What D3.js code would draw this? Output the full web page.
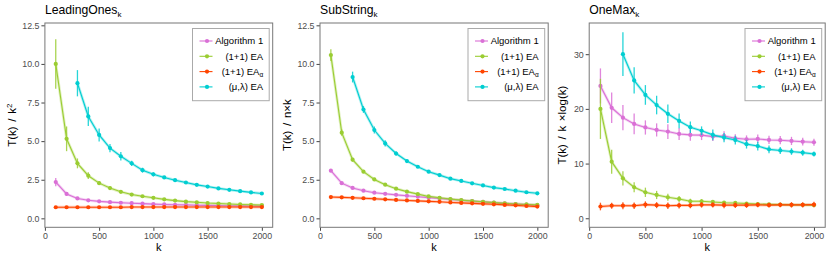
<!DOCTYPE html>
<html lang="en">
<head>
<meta charset="utf-8">
<script src="https://d3js.org/d3.v7.min.js"></script>
<style>
    body { margin: 0px; background: #fff; }
    text { font-family: "Liberation Sans", Arial, sans-serif; }
</style>
</head>
<body>
<svg id="chart"></svg>
<script>
// Problem sizes
var kValues = [100, 200, 300, 400, 500, 600, 700, 800, 900, 1000,
               1100, 1200, 1300, 1400, 1500, 1600, 1700, 1800, 1900, 2000];

var seriesNames = ["Algorithm 1", "(1+1) EA", "(1+1) EA", "(\u03bc,\u03bb) EA"];
var seriesSubs = ["", "", "\u03b1", ""];
var seriesColors = ["#da70d6", "#9acd32", "#ff4500", "#00ced1"];

var xTicks = [0, 500, 1000, 1500, 2000];

// LeadingOnes_k : T(k) / k^2
var leadAlg1 = [2.35, 1.58, 1.29, 1.17, 1.10, 1.05, 1.01, 0.98, 0.95, 0.92, 0.90, 0.88, 0.87, 0.85, 0.84, 0.83, 0.82, 0.81, 0.80, 0.79];
var leadAlg1Err = [0.27, 0.12, 0.07, 0.05, 0.04, 0.03, 0.03, 0.03, 0.02, 0.02, 0.02, 0.02, 0.02, 0.02, 0.02, 0.02, 0.02, 0.02, 0.02, 0.02];
var leadEA = [10.0, 5.15, 3.56, 2.76, 2.28, 1.96, 1.72, 1.54, 1.43, 1.33, 1.23, 1.15, 1.08, 1.04, 0.99, 0.96, 0.93, 0.90, 0.88, 0.86];
var leadEAErr = [1.6, 0.8, 0.32, 0.22, 0.12, 0.10, 0.08, 0.06, 0.05, 0.04, 0.04, 0.03, 0.03, 0.03, 0.03, 0.02, 0.02, 0.02, 0.02, 0.02];
var leadEAa = [0.72, 0.72, 0.72, 0.72, 0.72, 0.72, 0.72, 0.73, 0.73, 0.73, 0.73, 0.73, 0.73, 0.73, 0.73, 0.73, 0.73, 0.73, 0.73, 0.73];
var leadEAaErr = [0.08, 0.07, 0.07, 0.07, 0.07, 0.07, 0.07, 0.07, 0.07, 0.07, 0.07, 0.07, 0.07, 0.07, 0.07, 0.07, 0.07, 0.07, 0.07, 0.07];
var leadMuLam = [null, null, 8.75, 6.60, 5.40, 4.55, 4.02, 3.56, 3.12, 2.85, 2.65, 2.47, 2.32, 2.17, 2.06, 1.94, 1.85, 1.76, 1.68, 1.61];
var leadMuLamErr = [null, null, 0.85, 0.62, 0.42, 0.27, 0.28, 0.17, 0.16, 0.13, 0.08, 0.06, 0.06, 0.05, 0.05, 0.04, 0.04, 0.04, 0.04, 0.04];

// SubString_k : T(k) / (n k)
var subAlg1 = [3.09, 2.28, 1.97, 1.79, 1.66, 1.59, 1.52, 1.46, 1.40, 1.34, 1.29, 1.23, 1.17, 1.12, 1.07, 1.02, 0.97, 0.93, 0.89, 0.85];
var subAlg1Err = [0.06, 0.05, 0.04, 0.04, 0.03, 0.03, 0.03, 0.03, 0.03, 0.03, 0.03, 0.03, 0.03, 0.03, 0.03, 0.03, 0.03, 0.03, 0.03, 0.03];
var subEA = [10.57, 5.55, 3.80, 3.02, 2.52, 2.18, 1.92, 1.73, 1.57, 1.42, 1.33, 1.25, 1.18, 1.12, 1.07, 1.02, 0.97, 0.93, 0.90, 0.87];
var subEAErr = [0.38, 0.20, 0.12, 0.08, 0.06, 0.05, 0.04, 0.04, 0.03, 0.03, 0.03, 0.03, 0.03, 0.03, 0.03, 0.03, 0.03, 0.03, 0.03, 0.03];
var subEAa = [1.38, 1.36, 1.33, 1.30, 1.27, 1.23, 1.19, 1.16, 1.13, 1.10, 1.07, 1.03, 1.00, 0.97, 0.94, 0.91, 0.87, 0.84, 0.80, 0.76];
var subEAaErr = [0.06, 0.06, 0.06, 0.06, 0.06, 0.06, 0.06, 0.06, 0.06, 0.06, 0.06, 0.06, 0.06, 0.06, 0.06, 0.06, 0.06, 0.06, 0.06, 0.06];
var subMuLam = [null, null, 9.15, 7.05, 5.72, 4.85, 4.20, 3.71, 3.34, 3.02, 2.80, 2.57, 2.42, 2.27, 2.13, 1.99, 1.90, 1.79, 1.69, 1.62];
var subMuLamErr = [null, null, 0.35, 0.22, 0.22, 0.20, 0.15, 0.10, 0.08, 0.07, 0.06, 0.05, 0.05, 0.05, 0.04, 0.04, 0.04, 0.04, 0.04, 0.04];

// OneMax_k : T(k) / (k log k)
var oneAlg1 = [24.2, 20.2, 18.4, 17.25, 16.6, 16.15, 15.85, 15.42, 15.24, 15.2, 14.93, 15.05, 14.63, 14.45, 14.5, 14.32, 14.27, 14.14, 14.0, 13.9];
var oneAlg1Err = [3.2, 2.8, 2.3, 1.9, 1.3, 1.2, 1.35, 1.1, 1.05, 0.9, 0.8, 0.85, 0.75, 0.7, 0.8, 0.75, 0.75, 0.75, 0.7, 0.65];
var oneEA = [20.0, 10.35, 7.3, 5.67, 4.75, 4.26, 3.84, 3.53, 3.1, 3.1, 2.98, 2.85, 2.8, 2.7, 2.6, 2.55, 2.5, 2.45, 2.45, 2.4];
var oneEAErr = [5.5, 2.2, 1.3, 0.9, 0.85, 0.75, 0.65, 0.55, 0.45, 0.4, 0.35, 0.3, 0.3, 0.25, 0.25, 0.2, 0.2, 0.2, 0.2, 0.2];
var oneEAa = [2.15, 2.3, 2.3, 2.3, 2.5, 2.4, 2.3, 2.35, 2.35, 2.45, 2.45, 2.4, 2.4, 2.4, 2.45, 2.4, 2.45, 2.45, 2.45, 2.5];
var oneEAaErr = [0.7, 0.55, 0.65, 0.6, 0.6, 0.55, 0.6, 0.55, 0.5, 0.5, 0.5, 0.55, 0.5, 0.5, 0.45, 0.45, 0.45, 0.5, 0.5, 0.5];
var oneMuLam = [null, null, 30.0, 25.2, 22.55, 20.7, 19.1, 17.8, 16.65, 16.0, 15.25, 14.75, 14.3, 13.55, 13.2, 12.6, 12.4, 12.2, 12.0, 11.75];
var oneMuLamErr = [null, null, 4.0, 2.4, 1.8, 1.7, 1.7, 1.35, 1.05, 0.8, 1.0, 0.85, 0.8, 0.8, 0.8, 0.7, 0.65, 0.6, 0.55, 0.45];

var width = 830;
var height = 258;

// ylabel parts: [text, superscript]
var panels = [
    {
        title: "LeadingOnes", ylabel: ["T(k) / k", "2"],
        left: 44.9, right: 272.7, yDomain: [-0.58, 12.65],
        yTicks: [0, 2.5, 5, 7.5, 10, 12.5], yFormat: d3.format(".1f"), ylabelX: 11.7,
        means: [leadAlg1, leadEA, leadEAa, leadMuLam],
        errs: [leadAlg1Err, leadEAErr, leadEAaErr, leadMuLamErr]
    },
    {
        title: "SubString", ylabel: ["T(k) / n\u00d7k", ""],
        left: 320, right: 548.2, yDomain: [-0.58, 12.65],
        yTicks: [0, 2.5, 5, 7.5, 10, 12.5], yFormat: d3.format(".1f"), ylabelX: 287,
        means: [subAlg1, subEA, subEAa, subMuLam],
        errs: [subAlg1Err, subEAErr, subEAaErr, subMuLamErr]
    },
    {
        title: "OneMax", ylabel: ["T(k) / k \u00d7log(k)", ""],
        left: 589.2, right: 825.2, yDomain: [-1.65, 35.7],
        yTicks: [0, 10, 20, 30], yFormat: d3.format("d"), ylabelX: 562,
        means: [oneAlg1, oneEA, oneEAa, oneMuLam],
        errs: [oneAlg1Err, oneEAErr, oneEAaErr, oneMuLamErr]
    }
];

var plotTop = 23, plotBottom = 227.3;

var svg = d3.select("#chart")
    .attr("width", width)
    .attr("height", height);

panels.forEach(function(p) {
    var x = d3.scaleLinear().domain([0, 2100]).range([p.left, p.right]);
    var y = d3.scaleLinear().domain(p.yDomain).range([plotBottom, plotTop]);

    var g = svg.append("g");

    // Title with subscript k
    var title = g.append("text")
        .attr("x", p.left)
        .attr("y", 13.5)
        .style("font-size", "12.2px")
        .attr("fill", "#000")
        .text(p.title);
    title.append("tspan")
        .attr("dy", 3)
        .style("font-size", "8px")
        .text("k");

    // Axes
    var xAxis = g.append("g")
        .attr("transform", "translate(0," + plotBottom + ")")
        .call(d3.axisBottom(x).tickValues(xTicks).tickSize(3.5).tickPadding(2).tickFormat(d3.format("d")));
    var yAxis = g.append("g")
        .attr("transform", "translate(" + p.left + ",0)")
        .call(d3.axisLeft(y).tickValues(p.yTicks).tickSize(3.5).tickPadding(2).tickFormat(p.yFormat));
    [xAxis, yAxis].forEach(function(a) {
        a.select(".domain").remove();
        a.selectAll(".tick line").attr("stroke", "#444");
        a.selectAll(".tick text")
            .attr("fill", "#4d4d4d")
            .style("font-family", "'Liberation Sans', Arial, sans-serif")
            .style("font-size", "8.8px");
    });

    // Panel border
    g.append("rect")
        .attr("x", p.left)
        .attr("y", plotTop)
        .attr("width", p.right - p.left)
        .attr("height", plotBottom - plotTop)
        .attr("fill", "none")
        .attr("stroke", "#777")
        .attr("stroke-width", 1);

    // Axis titles
    g.append("text")
        .attr("x", (p.left + p.right) / 2)
        .attr("y", 250.5)
        .attr("text-anchor", "middle")
        .style("font-size", "11px")
        .text("k");
    var yl = g.append("text")
        .attr("transform", "translate(" + p.ylabelX + "," + ((plotTop + plotBottom) / 2) + ") rotate(-90)")
        .attr("dy", "0.35em")
        .attr("text-anchor", "middle")
        .attr("xml:space", "preserve")
        .style("font-size", "11.5px")
        .style("word-spacing", "1.5px")
        .text(p.ylabel[0]);
    if (p.ylabel[1]) {
        yl.append("tspan")
            .attr("dy", -4)
            .style("font-size", "8px")
            .text(p.ylabel[1]);
    }

    // Series
    var line = d3.line()
        .defined(function(d) { return d.v != null; })
        .x(function(d) { return x(d.k); })
        .y(function(d) { return y(d.v); });

    p.means.forEach(function(vals, si) {
        var color = seriesColors[si];
        var pts = kValues.map(function(k, i) {
            return { k: k, v: vals[i], e: p.errs[si][i] };
        });
        var valid = pts.filter(function(d) { return d.v != null; });
        var sg = g.append("g");

        sg.selectAll("line.err")
            .data(valid)
            .enter().append("line")
            .attr("class", "err")
            .attr("x1", function(d) { return x(d.k); })
            .attr("x2", function(d) { return x(d.k); })
            .attr("y1", function(d) { return y(d.v - d.e); })
            .attr("y2", function(d) { return y(d.v + d.e); })
            .attr("stroke", color)
            .attr("stroke-opacity", 0.85)
            .attr("stroke-width", 1.3);

        // faint band under the line
        sg.append("path")
            .datum(pts)
            .attr("d", line)
            .attr("fill", "none")
            .attr("stroke", color)
            .attr("stroke-opacity", 0.3)
            .attr("stroke-width", 2.8);

        sg.append("path")
            .datum(pts)
            .attr("d", line)
            .attr("fill", "none")
            .attr("stroke", color)
            .attr("stroke-width", 1.1);

        sg.selectAll("circle")
            .data(valid)
            .enter().append("circle")
            .attr("cx", function(d) { return x(d.k); })
            .attr("cy", function(d) { return y(d.v); })
            .attr("r", 2.1)
            .attr("fill", color);
    });

    // Legend
    var boxRight = p.right - 3.5, boxLeft = boxRight - 76.7;
    var legend = g.append("g");
    legend.append("rect")
        .attr("x", boxLeft)
        .attr("y", 28.5)
        .attr("width", boxRight - boxLeft)
        .attr("height", 72.2)
        .attr("fill", "#fff")
        .attr("stroke", "#aaa")
        .attr("stroke-width", 1);

    seriesNames.forEach(function(name, si) {
        var cy = 41 + si * 15.3;
        legend.append("line")
            .attr("x1", boxLeft + 7)
            .attr("x2", boxLeft + 20)
            .attr("y1", cy)
            .attr("y2", cy)
            .attr("stroke", seriesColors[si])
            .attr("stroke-width", 1.1);
        legend.append("circle")
            .attr("cx", boxLeft + 14.5)
            .attr("cy", cy)
            .attr("r", 2.1)
            .attr("fill", seriesColors[si]);
        var t = legend.append("text")
            .attr("x", boxRight - 6)
            .attr("y", cy)
            .attr("dy", "0.35em")
            .attr("text-anchor", "end")
            .style("font-size", "9.5px")
            .text(name);
        if (seriesSubs[si]) {
            t.append("tspan")
                .attr("dy", 2.5)
                .style("font-size", "6.5px")
                .text(seriesSubs[si]);
        }
    });
});
</script>
</body>
</html>
